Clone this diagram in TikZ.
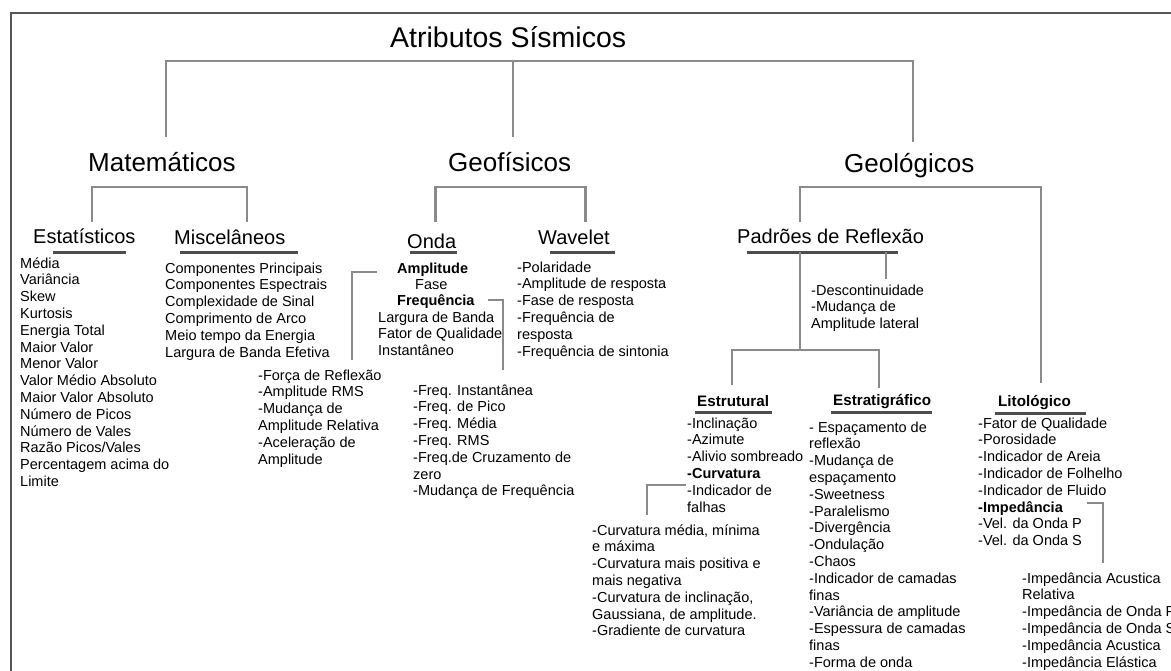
\documentclass[tikz,border=0pt]{standalone}
\usepackage{fontspec}
\setmainfont{Liberation Sans}
\definecolor{connc}{HTML}{8A8A8A}
\definecolor{ulc}{HTML}{4D4D4D}
\definecolor{framec}{HTML}{555555}
\newcommand{\lstx}[2][16.8]{\parbox[t]{320pt}{\fontsize{14.5}{#1}\selectfont\raggedright #2}}
\begin{document}
\begin{tikzpicture}[x=1pt,y=-1pt,
  conn/.style={draw=connc, line width=2.5pt},
  uline/.style={draw=ulc, line width=3pt},
  framel/.style={draw=framec, line width=2.5pt},
  txt/.style={anchor=base west, inner sep=0pt, text=black},
  title/.style={txt, font=\fontsize{28.5}{30}\selectfont},
  head/.style={txt, font=\fontsize{26}{28}\selectfont},
  sub/.style={txt, font=\fontsize{20}{22}\selectfont},
  subb/.style={txt, font=\fontsize{15.2}{17}\selectfont\bfseries},
  lst/.style={txt}]
\useasboundingbox (0,0) rectangle (1171,670);
\clip (0,0) rectangle (1171,670);
\fill[white] (0,0) rectangle (1171,670);
% frame
\coordinate (fr1) at (11,675); \coordinate (fr2) at (11,13); \coordinate (fr3) at (1176,13);
\draw[framel] (fr1) -- (fr2) -- (fr3);

% headings
\node[title] (root) at (390,47) {Atributos Sísmicos};
\node[head] (mat) at (88,171) {Matemáticos};
\node[head] (geof) at (448,171) {Geofísicos};
\node[head] (geol) at (844,172) {Geológicos};

\node[sub] (estat) at (33,243) {Estatísticos};
\node[sub] (misc) at (174,244) {Miscelâneos};
\node[sub] (onda) at (407,248) {Onda};
\node[sub] (wav) at (538,244) {Wavelet};
\node[sub] (padr) at (737,243) {Padrões de Reflexão};

\node[subb] (estr) at (697,406) {Estrutural};
\node[subb] (estg) at (833,405) {Estratigráfico};
\node[subb] (lito) at (998,406) {Litológico};

% underlines
\draw[uline] (53,252) -- (126,252);
\draw[uline] (180,252) -- (298,252);
\draw[uline] (410,252) -- (457,252);
\draw[uline] (550,252) -- (615,252);
\draw[uline] (747,252) -- (898,252);
\draw[uline] (695,412) -- (772,412);
\draw[uline] (831,412) -- (932,412);
\draw[uline] (995,413) -- (1086,413);

% lists
\node[lst] (lstat) at (20,268) {\lstx{Média\\Variância\\Skew\\Kurtosis\\Energia Total\\Maior Valor\\Menor Valor\\Valor Médio Absoluto\\Maior Valor Absoluto\\Número de Picos\\Número de Vales\\Razão Picos/Vales\\Percentagem acima do\\Limite}};
\node[lst] (lmisc) at (165,273) {\lstx{Componentes Principais\\Componentes Espectrais\\Complexidade de Sinal\\Comprimento de Arco\\Meio tempo da Energia\\Largura de Banda Efetiva}};
\node[lst] (londa) at (378,273) {\lstx[16.4]{\hspace*{19pt}\textbf{Amplitude}\\\hspace*{37pt}Fase\\\hspace*{19pt}\textbf{Frequência}\\Largura de Banda\\Fator de Qualidade\\Instantâneo}};
\node[lst] (lamp) at (258,380) {\lstx{-Força de Reflexão\\-Amplitude RMS\\-Mudança de\\Amplitude Relativa\\-Aceleração de\\Amplitude}};
\node[lst] (lwav) at (517,272) {\lstx{-Polaridade\\-Amplitude de resposta\\-Fase de resposta\\-Frequência de\\resposta\\-Frequência de sintonia}};
\node[lst] (lfreq) at (413,395) {\lstx{-Freq. Instantânea\\-Freq. de Pico\\-Freq. Média\\-Freq. RMS\\-Freq.de Cruzamento de\\zero\\-Mudança de Frequência}};
\node[lst] (lpadr) at (811,295) {\lstx{-Descontinuidade\\-Mudança de\\Amplitude lateral}};
\node[lst] (lestr) at (687,428) {\lstx{-Inclinação\\-Azimute\\-Alivio sombreado\\\textbf{-Curvatura}\\-Indicador de\\falhas}};
\node[lst] (lestg) at (809,432) {\lstx{- Espaçamento de\\reflexão\\-Mudança de\\espaçamento\\-Sweetness\\-Paralelismo\\-Divergência\\-Ondulação\\-Chaos\\-Indicador de camadas\\finas\\-Variância de amplitude\\-Espessura de camadas\\finas\\-Forma de onda}};
\node[lst] (llito) at (978,428) {\lstx{-Fator de Qualidade\\-Porosidade\\-Indicador de Areia\\-Indicador de Folhelho\\-Indicador de Fluido\\\textbf{-Impedância}\\-Vel. da Onda P\\-Vel. da Onda S}};
\node[lst] (lcurv) at (592,535) {\lstx{-Curvatura média, mínima\\e máxima\\-Curvatura mais positiva e\\mais negativa\\-Curvatura de inclinação,\\Gaussiana, de amplitude.\\-Gradiente de curvatura}};
\node[lst] (limp) at (1022,583) {\lstx{-Impedância Acustica\\Relativa\\-Impedância de Onda P\\-Impedância de Onda S\\-Impedância Acustica\\-Impedância Elástica}};

% connector coordinates
\coordinate (tA) at (166,61); \coordinate (tC) at (913,61); \coordinate (tB) at (513,61);
\coordinate (matT) at (166,137); \coordinate (geofT) at (513,137); \coordinate (geolT) at (913,142);
\coordinate (mb1) at (92,222); \coordinate (mb2) at (92,187); \coordinate (mb3) at (247,187); \coordinate (mb4) at (247,222);
\coordinate (gb1) at (435.5,222); \coordinate (gb2) at (435.5,187); \coordinate (gb3) at (585.5,187); \coordinate (gb4) at (585.5,222);
\coordinate (lb1) at (800,222); \coordinate (lb2) at (800,187); \coordinate (lb3) at (1041,187); \coordinate (lb4) at (1041,383);
\coordinate (pv1) at (800,252); \coordinate (pv2) at (800,350);
\coordinate (pb1) at (732,385); \coordinate (pb2) at (732,350); \coordinate (pb3) at (879,350); \coordinate (pb4) at (879,388);
\coordinate (ps1) at (886,252); \coordinate (ps2) at (886,279);
\coordinate (ab1) at (377,272); \coordinate (ab2) at (352,272); \coordinate (ab3) at (352,360);
\coordinate (fb1) at (488,300); \coordinate (fb2) at (503,300); \coordinate (fb3) at (503,370);
\coordinate (cb1) at (686,485); \coordinate (cb2) at (647,485); \coordinate (cb3) at (647,515);
\coordinate (ib1) at (1087,503); \coordinate (ib2) at (1103,503); \coordinate (ib3) at (1103,563);

% connectors
\draw[conn] (matT) -- (tA) -- (tC) -- (geolT);
\draw[conn] (tB) -- (geofT);
\draw[conn] (mb1) -- (mb2) -- (mb3) -- (mb4);
\draw[conn] (gb1) -- (gb2) -- (gb3) -- (gb4);
\draw[conn] (lb1) -- (lb2) -- (lb3) -- (lb4);
\draw[conn] (pv1) -- (pv2);
\draw[conn] (pb1) -- (pb2) -- (pb3) -- (pb4);
\draw[conn] (ps1) -- (ps2);
\draw[conn] (ab1) -- (ab2) -- (ab3);
\draw[conn] (fb1) -- (fb2) -- (fb3);
\draw[conn] (cb1) -- (cb2) -- (cb3);
\draw[conn] (ib1) -- (ib2) -- (ib3);
\end{tikzpicture}
\end{document}
